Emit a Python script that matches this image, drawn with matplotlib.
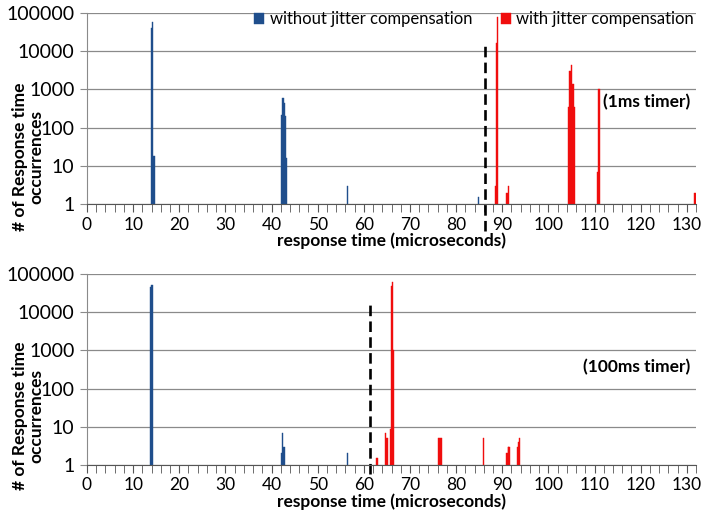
#!/usr/bin/env python3

import matplotlib
matplotlib.use('Agg')
import matplotlib.pyplot as plt
from matplotlib.ticker import FixedLocator, MultipleLocator

plt.rcParams['font.family'] = ['Lato', 'DejaVu Sans']

# response time bins (microseconds) and occurrence counts
top_blue_x = [14.0, 14.2, 14.5, 42.3, 42.5, 42.7, 42.9, 43.1, 56.4, 84.8]
top_blue_n = [40000, 60000, 18, 220, 600, 450, 200, 16, 3, 1.5]
top_red_x = [88.6, 88.8, 89.0, 91.0, 91.4, 104.4, 104.7, 105.0, 105.3, 105.6, 110.6, 111.0, 131.8]
top_red_n = [3, 16000, 80000, 2, 3, 350, 3000, 4300, 1400, 350, 7, 1000, 2]

bot_blue_x = [13.9, 14.1, 42.2, 42.4, 42.7, 56.4]
bot_blue_n = [45000, 52000, 2, 7, 3, 2]
bot_red_x = [62.7, 63.0, 64.7, 65.0, 65.8, 66.0, 66.2, 66.4, 76.2, 76.5, 76.8, 85.9,
             91.0, 91.3, 91.5, 93.3, 93.5, 93.7]
bot_red_n = [1.5, 1.5, 7, 5, 9, 50000, 60000, 1000, 5, 5, 5, 5, 2, 3, 3, 3, 4, 5]

# where the two curves separate
top_split = 86.3
bot_split = 61.3

y_ticks = [1, 10, 100, 1000, 10000, 100000]
y_labels = ['1', '10', '100', '1000', '10000', '100000']

BLUE = '#1f4e8c'
RED = '#f00d0d'
GRID = '#8a8a8a'

fig = plt.figure(figsize=(7.01, 5.17), dpi=100)
ax1 = fig.add_axes([0.1241, 0.6054, 0.8688, 0.3694])
ax2 = fig.add_axes([0.1241, 0.1006, 0.8688, 0.3694])


def style(ax):
    ax.set_yscale('log')
    ax.set_ylim(1, 100000)
    ax.set_xlim(0, 132)
    ax.yaxis.set_major_locator(FixedLocator(y_ticks))
    ax.yaxis.set_minor_locator(FixedLocator([]))
    ax.set_yticklabels(y_labels)
    ax.xaxis.set_major_locator(MultipleLocator(10))
    ax.xaxis.set_minor_locator(MultipleLocator(2))
    ax.grid(axis='y', color=GRID, lw=0.9)
    ax.set_axisbelow(True)
    for s in ('right', 'top'):
        ax.spines[s].set_visible(False)
    ax.spines['left'].set_color(GRID)
    ax.spines['bottom'].set_color('#555555')
    ax.tick_params(axis='y', length=5, color=GRID, labelsize=14, pad=4)
    ax.tick_params(axis='x', which='both', length=6, color='#555555', labelsize=12.5, pad=3)
    ax.set_xlabel('response time (microseconds)', fontweight='bold', fontsize=12.5, labelpad=0)


for ax, bx, bn, rx, rn, split, ytop, ybot in (
        (ax1, top_blue_x, top_blue_n, top_red_x, top_red_n, top_split, 0.832, -0.14),
        (ax2, bot_blue_x, bot_blue_n, bot_red_x, bot_red_n, bot_split, 0.853, -0.045)):
    style(ax)
    ax.bar(bx, bn, width=0.3, color=BLUE, edgecolor=BLUE, lw=0.3,
           label='without jitter compensation')
    ax.bar(rx, rn, width=0.3, color=RED, edgecolor=RED, lw=0.3,
           label='with jitter compensation')
    ax.axvline(split, ymin=ybot, ymax=ytop, color='black', lw=1.9,
               linestyle=(0, (4, 2)), clip_on=False)

ax1.legend(ncol=2, loc='upper right', bbox_to_anchor=(1.008, 1.045), frameon=False,
           fontsize=12, handlelength=0.6, handleheight=0.6, handletextpad=0.35,
           columnspacing=1.7, borderaxespad=0)

ax1.text(0.99, 0.535, '(1ms timer)', transform=ax1.transAxes, ha='right', va='center',
         fontweight='bold', fontsize=12.5)
ax2.text(0.99, 0.51, '(100ms timer)', transform=ax2.transAxes, ha='right', va='center',
         fontweight='bold', fontsize=12.5)

for yc in (157, 416):
    fig.text(28 / 701, 1 - yc / 517, '# of Response time\noccurrences', rotation=90,
             ha='center', va='center', multialignment='center', fontweight='bold',
             fontsize=12.5, linespacing=1.0)

fig.savefig('out.png', dpi=100)
